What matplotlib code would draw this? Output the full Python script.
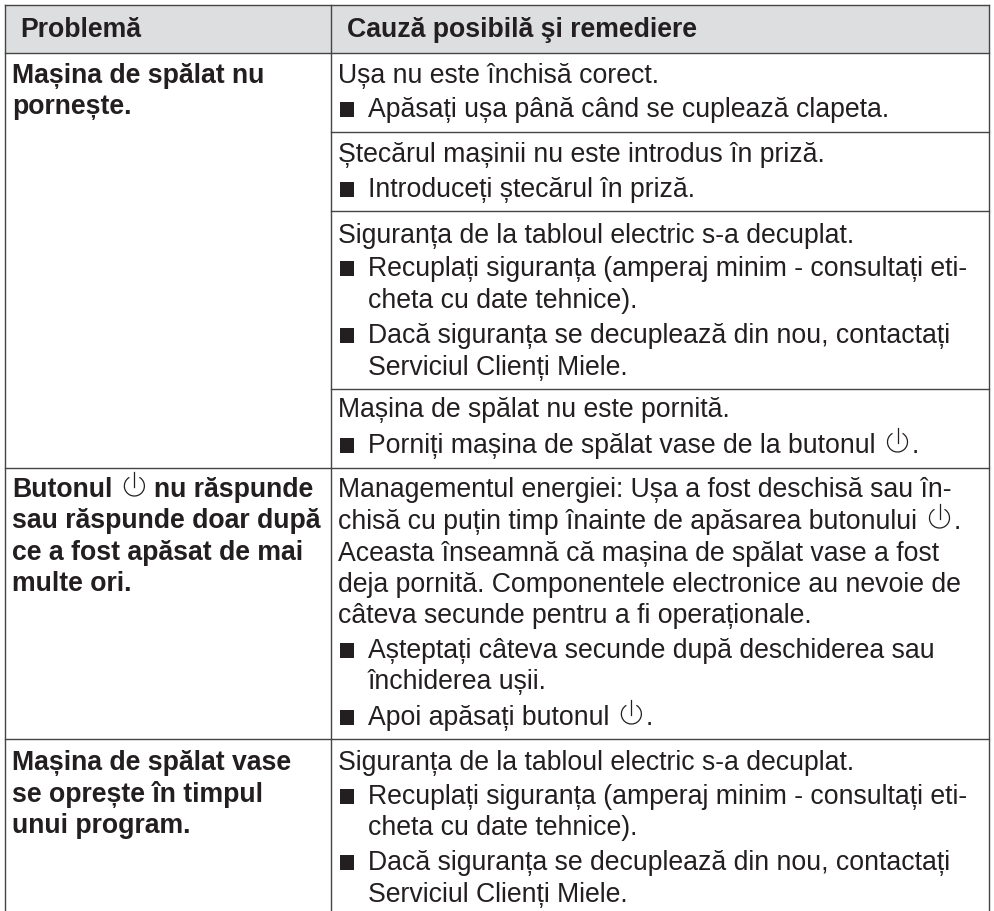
import matplotlib.pyplot as plt
from matplotlib.patches import Arc, Rectangle

plt.rcParams['font.family'] = ['Liberation Sans', 'DejaVu Sans']

# table text
header = ["Problemă", "Cauză posibilă şi remediere"]
# "@" marks the power symbol
problems = [
    "Mașina de spălat nu", "pornește.",
    "Butonul@nu răspunde", "sau răspunde doar după", "ce a fost apăsat de mai", "multe ori.",
    "Mașina de spălat vase", "se oprește în timpul", "unui program.",
]
# "*" at the start = bullet line, "-" = continuation of a bullet
causes = [
    "Ușa nu este închisă corect.",
    "*Apăsați ușa până când se cuplează clapeta.",
    "Ștecărul mașinii nu este introdus în priză.",
    "*Introduceți ștecărul în priză.",
    "Siguranța de la tabloul electric s-a decuplat.",
    "*Recuplați siguranța (amperaj minim - consultați eti-",
    "-cheta cu date tehnice).",
    "*Dacă siguranța se decuplează din nou, contactați",
    "-Serviciul Clienți Miele.",
    "Mașina de spălat nu este pornită.",
    "*Porniți mașina de spălat vase de la butonul@.",
    "Managementul energiei: Ușa a fost deschisă sau în-",
    "chisă cu puțin timp înainte de apăsarea butonului@.",
    "Aceasta înseamnă că mașina de spălat vase a fost",
    "deja pornită. Componentele electronice au nevoie de",
    "câteva secunde pentru a fi operaționale.",
    "*Așteptați câteva secunde după deschiderea sau",
    "-închiderea ușii.",
    "*Apoi apăsați butonul@.",
    "Siguranța de la tabloul electric s-a decuplat.",
    "*Recuplați siguranța (amperaj minim - consultați eti-",
    "-cheta cu date tehnice).",
    "*Dacă siguranța se decuplează din nou, contactați",
    "-Serviciul Clienți Miele.",
]

# layout in pixels
problem_y = [83, 114, 497, 528, 560, 591, 770, 802, 833]
cause_y = [83, 117, 162, 197, 243, 276, 308, 343, 375, 417, 453,
           497, 529, 561, 592, 623, 658, 689, 725, 770, 804, 835, 870, 902]
row_lines = [54, 469, 740]
sub_lines = [133, 212, 390]
text_color = '#231f20'
line_color = '#454545'
fs = 19.2

fig = plt.figure(figsize=(9.94, 9.12), dpi=100)
ax = fig.add_axes([0, 0, 1, 1])
ax.set_xlim(0, 994)
ax.set_ylim(912, 0)
ax.axis('off')


def draw_line(x, y, s, weight='normal'):
    # text runs with the power symbol drawn between them
    parts = s.split('@')
    for i, part in enumerate(parts):
        t = ax.text(x, y, part, fontsize=fs, fontweight=weight, color=text_color)
        if i == len(parts) - 1:
            break
        end = t.get_window_extent(fig.canvas.get_renderer()).x1
        cx = end + 22
        ax.add_patch(Arc((cx, y - 10), 20, 20, theta1=-60, theta2=240, color=text_color, lw=0.9))
        ax.plot([cx, cx], [y - 24, y - 9], color=text_color, lw=0.9)
        x = cx + (14 if parts[i + 1].startswith('.') else 20)


ax.add_patch(Rectangle((5, 6), 984, 48, facecolor='#dcdedf', edgecolor='none'))

# grid
line = dict(color=line_color, lw=1.0)
ax.plot([5, 988.5], [6, 6], **line)
ax.plot([5, 5], [6, 912], **line)
ax.plot([988.5, 988.5], [6, 912], **line)
ax.plot([330.7, 330.7], [6, 912], **line)
for y in row_lines:
    ax.plot([5, 988.5], [y, y], **line)
for y in sub_lines:
    ax.plot([330.7, 988.5], [y, y], **line)

ax.text(20, 37, header[0], fontsize=fs, fontweight='bold', color=text_color)
ax.text(347, 37, header[1], fontsize=fs, fontweight='bold', color=text_color)

for s, y in zip(problems, problem_y):
    draw_line(12, y, s, weight='bold')

for s, y in zip(causes, cause_y):
    if s.startswith('*'):
        ax.add_patch(Rectangle((339.5, y - 14), 14, 15, facecolor=text_color, edgecolor='none'))
        draw_line(368, y, s[1:])
    elif s.startswith('-'):
        draw_line(368, y, s[1:])
    else:
        draw_line(338.5, y, s)

fig.savefig('out.png', dpi=100)
